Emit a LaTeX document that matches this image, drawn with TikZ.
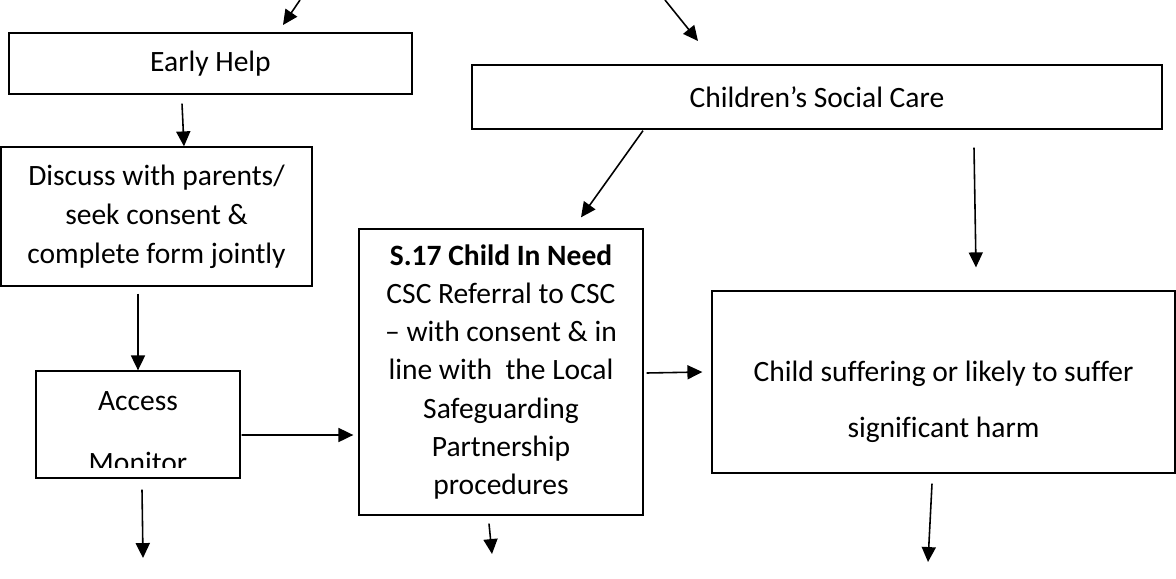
\documentclass[tikz,border=0pt]{standalone}
\usepackage{fontspec}
\setmainfont{Carlito}[Ligatures={TeX,NoCommon}]
\usetikzlibrary{arrows.meta, positioning}

\begin{document}
\begin{tikzpicture}[x=0.02cm,y=-0.02cm]
            % Styles
            \tikzstyle{fleche}=[-{Triangle[width=8pt,length=8.5pt]},line width=0.9pt]
            \tikzstyle{boite}=[draw,rectangle,line width=0.75pt,inner sep=0pt,align=center,font=\fontsize{16.8}{21.8}\selectfont]
            \tikzstyle{texte}=[inner sep=0pt,font=\fontsize{16.8}{21.8}\selectfont]
            % Dimensions
            \def\Px{0.02cm}
            \useasboundingbox (0,0) rectangle (1176,578);
            % Boites
            \node[boite,minimum width={403*\Px},minimum height={61*\Px}] (EH) at (210.5,63.5) {Early Help};
            \node[boite,minimum width={690*\Px},minimum height={64*\Px}] (CSC) at (817,97) {Children's Social Care};
            \node[boite,minimum width={311*\Px},minimum height={139*\Px},font=\fontsize{16.8}{22.1}\selectfont] (DIS) at (156.5,216.5) {Discuss with parents/\\seek consent \&\\complete form jointly};
            \node[boite,minimum width={204*\Px},minimum height={107*\Px}] (ACC) at (138,424.5) {};
            \node[boite,minimum width={284*\Px},minimum height={286*\Px}] (S17) at (501,372) {\textbf{S.17 Child In Need}\\CSC Referral to CSC\\-- with consent \& in\\line with\ \ the Local\\Safeguarding\\Partnership\\procedures};
            \node[boite,minimum width={463*\Px},minimum height={182*\Px}] (HARM) at (943.5,382) {};
            % Textes
            \node[texte,anchor=base] (ACCa) at (138,410) {Access};
            \begin{scope}
                \clip (36,371) rectangle (240,467);
                \node[texte,anchor=base] (ACCb) at (138,472) {Monitor};
            \end{scope}
            \node[texte,anchor=base] (HARMa) at (943.5,381) {Child suffering or likely to suffer};
            \node[texte,anchor=base] (HARMb) at (943.5,437) {significant harm};
            % Extremites libres
            \coordinate (hautA) at (300,0);
            \coordinate (hautAf) at (283,25);
            \coordinate (hautB) at (665,0);
            \coordinate (hautBf) at (698,41);
            \coordinate (basA) at (143,558);
            \coordinate (basB) at (492,554);
            \coordinate (basC) at (928,562);
            % Arcs
            \draw[fleche] (hautA)--(hautAf);
            \draw[fleche] (hautB)--(hautBf);
            \draw[fleche] ([shift={(-28.5,9)}]EH.south)--([shift={(27.5,0)}]DIS.north);
            \draw[fleche] ([shift={(-18.5,7)}]DIS.south)--(ACC.north);
            \draw[fleche] ([shift={(1,10.5)}]ACC.east)--([shift={(-5,63)}]S17.west);
            \draw[fleche] ([shift={(4,11)}]ACC.south)--(basA);
            \draw[fleche] ([shift={(-174,1)}]CSC.south)--([shift={(80,-11)}]S17.north);
            \draw[fleche] ([shift={(-12,8)}]S17.south)--(basB);
            \draw[fleche] ([shift={(3,1)}]S17.east)--([shift={(-9,-10)}]HARM.west);
            \draw[fleche] ([shift={(157,18)}]CSC.south)--([shift={(32.5,-23)}]HARM.north);
            \draw[fleche] ([shift={(-11.5,10)}]HARM.south)--(basC);
        \end{tikzpicture}
\end{document}
